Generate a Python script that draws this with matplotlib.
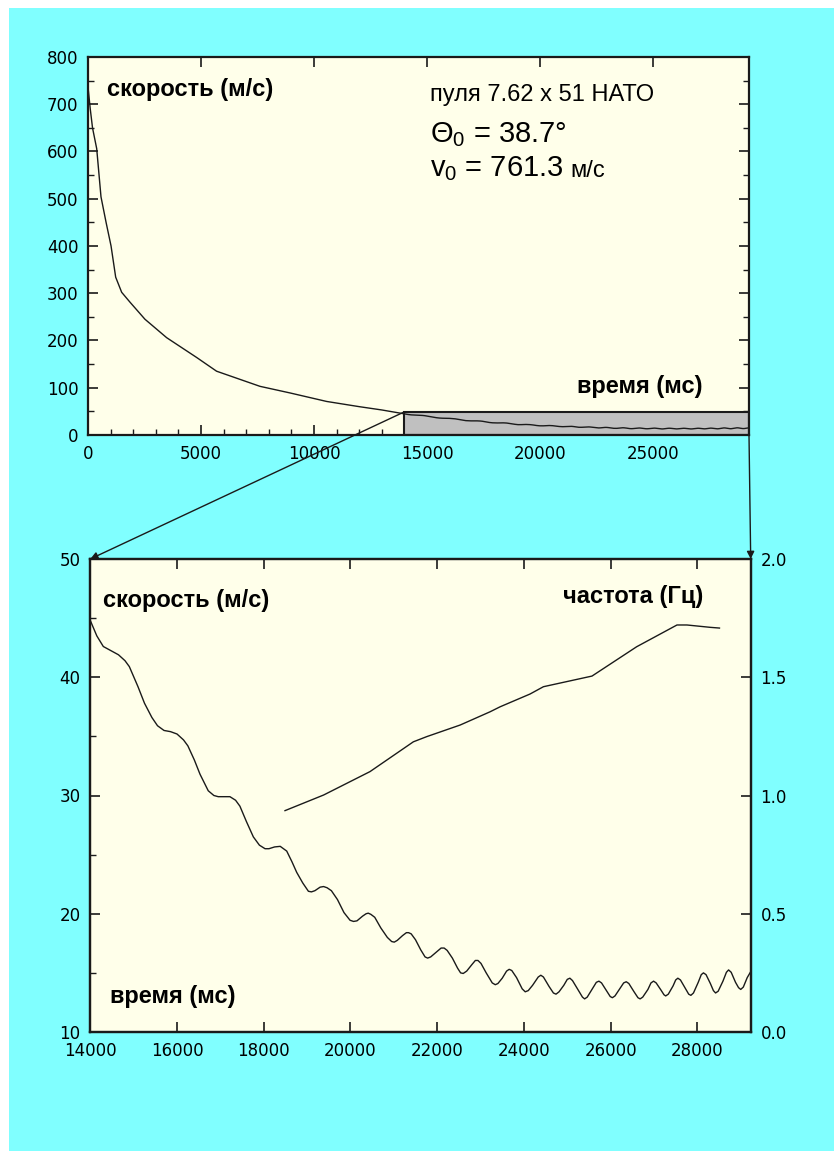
import matplotlib
matplotlib.use("Agg")
import matplotlib.pyplot as plt
import numpy as np
from matplotlib.patches import Rectangle, ConnectionPatch
from matplotlib.ticker import MultipleLocator, FormatStrFormatter

plt.rcParams['mathtext.fontset'] = 'custom'
plt.rcParams['mathtext.rm'] = 'Liberation Sans'
plt.rcParams['mathtext.it'] = 'Liberation Sans'

# speed, first part of the flight (ms, m/s)
t_early = [0, 100, 200, 385, 575, 800, 1020, 1225, 1490, 1860, 2520, 3480,
           4810, 5690, 7610, 8940, 10560, 12000, 13000]
v_early = [737, 690, 650, 606, 504, 450, 400, 334, 302, 281, 245, 206,
           164, 135, 103, 89, 71, 60, 53]

# speed, zoomed part (ms, m/s)
t_late = [14000, 14150, 14300, 14500, 14650, 14800, 14900, 15100, 15250, 15420,
          15550, 15700, 15850, 16000, 16150, 16250, 16400, 16530, 16720, 16850,
          16950, 17050, 17220, 17350, 17450, 17600, 17760, 17900, 18030, 18120,
          18250, 18380, 18530, 18650, 18760, 18900,
          19030, 19100, 19180, 19300, 19380, 19460, 19560, 19700, 19850, 19990,
          20070, 20150, 20280, 20360, 20410, 20470, 20560, 20700, 20850, 20950,
          21010, 21080, 21200, 21290, 21340, 21400, 21500, 21620, 21720, 21780,
          21850, 21980, 22090, 22160, 22230, 22350, 22470, 22540, 22600, 22680,
          22800, 22880, 22940, 23010, 23130, 23270, 23340, 23400, 23500, 23600,
          23660, 23720, 23830, 23960, 24030, 24100, 24200, 24330, 24390, 24450,
          24580, 24680, 24740, 24810, 24920, 25000, 25060, 25120, 25250, 25350,
          25400, 25460, 25570, 25670, 25730, 25790, 25910, 25990, 26040, 26100,
          26210, 26300, 26360, 26420, 26540, 26630, 26680, 26740, 26860, 26930,
          26990, 27050, 27160, 27230, 27270, 27330, 27440, 27500, 27550, 27610,
          27720, 27800, 27850, 27910, 28020, 28090, 28140, 28200, 28300, 28370,
          28420, 28480, 28590, 28670, 28720, 28780, 28880, 28950, 29000, 29060,
          29150, 29230]
v_late = [44.8, 43.5, 42.6, 42.2, 41.9, 41.4, 40.9, 39.2, 37.8, 36.6,
          35.9, 35.5, 35.4, 35.2, 34.7, 34.2, 33.0, 31.8, 30.4, 30.0,
          29.9, 29.9, 29.9, 29.6, 29.1, 27.8, 26.5, 25.8, 25.5, 25.5,
          25.65, 25.7, 25.3, 24.4, 23.5, 22.6,
          21.9, 21.85, 21.95, 22.25, 22.3, 22.2, 21.95, 21.2, 20.1, 19.45,
          19.35, 19.4, 19.8, 20.0, 20.05, 19.95, 19.7, 18.8, 18.0, 17.65,
          17.6, 17.75, 18.15, 18.4, 18.4, 18.3, 17.8, 16.95, 16.35, 16.25,
          16.35, 16.75, 17.1, 17.1, 16.9, 16.25, 15.4, 15.0, 14.95, 15.15,
          15.7, 16.05, 16.05, 15.8, 15.0, 14.15, 14.0, 14.1, 14.55, 15.15,
          15.3, 15.2, 14.6, 13.65, 13.4, 13.5, 13.95, 14.65, 14.8, 14.65,
          13.85, 13.3, 13.2, 13.4, 13.95, 14.45, 14.55, 14.35, 13.55, 12.95,
          12.8, 12.95, 13.6, 14.2, 14.3, 14.15, 13.45, 13.0, 12.9, 13.05,
          13.65, 14.15, 14.25, 14.1, 13.4, 12.9, 12.8, 12.95, 13.6, 14.15,
          14.3, 14.15, 13.55, 13.15, 13.05, 13.2, 13.9, 14.4, 14.55, 14.4,
          13.7, 13.2, 13.1, 13.3, 14.2, 14.85, 15.0, 14.85, 14.1, 13.5,
          13.3, 13.45, 14.3, 15.05, 15.25, 15.05, 14.2, 13.75, 13.6, 13.8,
          14.6, 15.1]

# oscillation frequency (ms, Hz)
t_freq = [18490, 19380, 20450, 21450, 21760, 22530, 23220, 23450, 24140,
          24450, 25570, 26600, 27530, 27760, 28300, 28510]
f_freq = [0.936, 1.002, 1.101, 1.227, 1.249, 1.298, 1.354, 1.375, 1.429,
          1.46, 1.505, 1.629, 1.721, 1.721, 1.711, 1.708]

cyan = '#80FFFF'
ivory = '#FFFFEA'
ink = '#1a1a1a'

fig = plt.figure(figsize=(8.34, 11.51), dpi=100)
fig.patch.set_facecolor('white')
fig.patches.append(Rectangle((9 / 834, 0), 1, 1 - 8 / 1151, transform=fig.transFigure,
                             facecolor=cyan, edgecolor='none', zorder=-10))


def style_axes(ax):
    ax.set_facecolor(ivory)
    for s in ax.spines.values():
        s.set_linewidth(1.6)
        s.set_color(ink)
    ax.tick_params(which='both', direction='in', colors=ink, labelsize=12,
                   labelcolor='black', pad=7)
    ax.tick_params(which='major', length=7, width=1.2)
    ax.tick_params(which='minor', length=4, width=1.0)


# ---- top chart
ax1 = fig.add_axes([88 / 834, 1 - 435 / 1151, 661 / 834, 378 / 1151])
style_axes(ax1)
t_all = t_early + t_late
v_all = v_early + v_late
ax1.plot(t_all, v_all, color=ink, lw=1.0, zorder=3)
ax1.set_xlim(0, 29250)
ax1.set_ylim(0, 800)
ax1.xaxis.set_major_locator(MultipleLocator(5000))
ax1.xaxis.set_minor_locator(MultipleLocator(1000))
ax1.yaxis.set_major_locator(MultipleLocator(100))
ax1.yaxis.set_minor_locator(MultipleLocator(50))
ax1.tick_params(which='both', top=True, right=True)
ax1.tick_params(axis='x', which='minor', top=False)
ax1.add_patch(Rectangle((14000, 0), 29250 - 14000, 49, facecolor='#C0C0C0',
                        edgecolor=ink, lw=1.5, zorder=2))

ax1.text(0.029, 0.913, 'скорость (м/с)', transform=ax1.transAxes, fontsize=17,
         fontweight='bold', family='Liberation Sans', va='center', ha='left')
ax1.text(0.929, 0.128, 'время (мс)', transform=ax1.transAxes, fontsize=17,
         fontweight='bold', family='Liberation Sans', va='center', ha='right')
ax1.text(0.517, 0.899, 'пуля 7.62 x 51 НАТО', transform=ax1.transAxes, fontsize=17,
         family='Liberation Sans', va='center', ha='left')
ax1.text(0.517, 0.794, r'$\Theta_0$ = 38.7°', transform=ax1.transAxes, fontsize=21,
         family='Liberation Sans', va='center', ha='left')
tv = ax1.text(0.517, 0.706, r'$v_0$ = 761.3', transform=ax1.transAxes, fontsize=21,
              family='Liberation Sans', va='center', ha='left')
ax1.annotate('м/с', xy=(1, 0), xycoords=tv, xytext=(5, 0.5), textcoords='offset points',
             fontsize=17, family='Liberation Sans', va='bottom', ha='left')

# ---- bottom chart
ax2 = fig.add_axes([90.3 / 834, 1 - 1032 / 1151, 660.4 / 834, 473 / 1151])
style_axes(ax2)
ax2.plot(t_late, v_late, color=ink, lw=1.0)
ax2.set_xlim(14000, 29230)
ax2.set_ylim(10, 50)
ax2.xaxis.set_major_locator(MultipleLocator(2000))
ax2.yaxis.set_major_locator(MultipleLocator(10))
ax2.yaxis.set_minor_locator(MultipleLocator(5))
ax2.tick_params(axis='x', which='both', top=True)

ax3 = ax2.twinx()
ax3.plot(t_freq, f_freq, color=ink, lw=1.0)
ax3.set_ylim(0, 2.0)
ax3.yaxis.set_major_locator(MultipleLocator(0.5))
ax3.yaxis.set_major_formatter(FormatStrFormatter('%.1f'))
for s in ax3.spines.values():
    s.set_linewidth(1.6)
    s.set_color(ink)
ax3.tick_params(direction='in', colors=ink, labelsize=12, labelcolor='black',
                pad=7, length=7, width=1.2)

ax2.text(0.019, 0.913, 'скорость (м/с)', transform=ax2.transAxes, fontsize=17,
         fontweight='bold', family='Liberation Sans', va='center', ha='left')
ax2.text(0.030, 0.0746, 'время (мс)', transform=ax2.transAxes, fontsize=17,
         fontweight='bold', family='Liberation Sans', va='center', ha='left')
ax2.text(0.928, 0.920, 'частота (Гц)', transform=ax2.transAxes, fontsize=17,
         fontweight='bold', family='Liberation Sans', va='center', ha='right')

# ---- zoom connectors
for xa, ya, xb, yb in [(14000, 49, 14000, 50), (29250, 0, 29230, 50)]:
    con = ConnectionPatch(xyA=(xa, ya), coordsA=ax1.transData,
                          xyB=(xb, yb), coordsB=ax2.transData,
                          arrowstyle='-|>', mutation_scale=11, color=ink, lw=1.0,
                          shrinkA=0, shrinkB=0, zorder=5)
    fig.add_artist(con)

fig.savefig('out.png', dpi=100, facecolor=fig.get_facecolor())
